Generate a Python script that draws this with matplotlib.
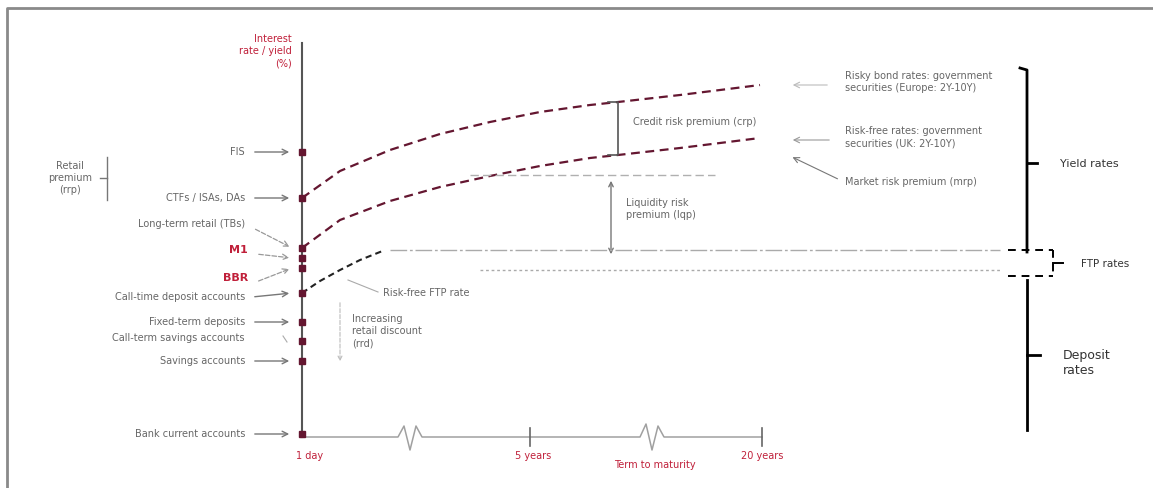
import matplotlib.pyplot as plt
from matplotlib.patches import FancyArrowPatch

# schematic units: x = position along term axis, y = rate level (drawn downward = lower)
rate_labels = ["FIS", "CTFs / ISAs, DAs", "Long-term retail (TBs)", "M1", "BBR",
               "Call-time deposit accounts", "Fixed-term deposits",
               "Call-term savings accounts", "Savings accounts", "Bank current accounts"]
label_y = [152, 198, 224, 250, 278, 297, 322, 338, 361, 434]
label_red = [False, False, False, True, True, False, False, False, False, False]
marker_y = [152, 198, 248, 258, 268, 293, 322, 341, 361, 434]

term_x = [302, 340, 390, 440, 490, 540, 590, 618, 680, 760]
risky_curve = [198, 171, 150, 134, 122, 112, 105, 102, 95, 85]
riskfree_curve = [248, 220, 201, 187, 176, 166, 158, 155, 148, 138]
ftp_x = [302, 320, 340, 360, 385]
ftp_curve = [293, 281, 270, 260, 250]

tick_x = [310, 533, 762]
tick_labels = ["1 day", "5 years", "20 years"]

RED = "#c0203a"
DARK = "#641630"
TXT = "#666666"

fig = plt.figure(figsize=(11.53, 4.88), dpi=100)
ax = fig.add_axes([0, 0, 1, 1])
ax.set_xlim(0, 1153)
ax.set_ylim(488, 0)
ax.axis("off")

# frame
ax.plot([7, 7, 1153], [488, 8, 8], color="#8a8a8a", lw=2)

# axes of the diagram
ax.plot([302, 302], [43, 437], color="#555555", lw=1.5)
hx = [302, 398, 404, 410, 416, 422, 640, 646, 652, 658, 664, 762]
hy = [437, 437, 426, 450, 426, 437, 437, 424, 450, 426, 437, 437]
ax.plot(hx, hy, color="#a0a0a0", lw=1.1)
for tx in [530, 762]:
    ax.plot([tx, tx], [428, 446], color="#666666", lw=1.2)
for tx, tl in zip(tick_x, tick_labels):
    ax.text(tx, 456, tl, color=RED, fontsize=7, ha="center", va="center")
ax.text(655, 465, "Term to maturity", color=RED, fontsize=7, ha="center", va="center")

ax.text(292, 51, "Interest\nrate / yield\n(%)", color=RED, fontsize=7,
        ha="right", va="center", linespacing=1.3)

# left labels and arrows
for y, lab, red, my in zip(label_y, rate_labels, label_red, marker_y):
    col = RED if red else TXT
    xr = 248 if red else 245
    ax.text(xr, y, lab, color=col, fontsize=8 if red else 7,
            fontweight="bold" if red else "normal", ha="right", va="center")
    if lab in ("Long-term retail (TBs)", "M1", "BBR"):
        ax.annotate("", xy=(292, my), xytext=(xr + 8, y + 4),
                    arrowprops=dict(arrowstyle="->", color="#999999", lw=0.9, ls="--"))
    elif lab == "Call-term savings accounts":
        ax.plot([283, 287], [336, 342], color="#aaaaaa", lw=0.8)
    else:
        ax.annotate("", xy=(292, my), xytext=(252, y),
                    arrowprops=dict(arrowstyle="->", color="#777777", lw=1.0))

# retail premium bracket
ax.plot([107, 107], [157, 200], color="#777777", lw=1.0)
ax.plot([100, 107], [178, 178], color="#777777", lw=1.0)
ax.text(70, 178, "Retail\npremium\n(rrp)", color=TXT, fontsize=7, ha="center",
        va="center", linespacing=1.3)

# curves
ax.plot(term_x, risky_curve, color=DARK, lw=1.6, ls=(0, (4, 2.5)))
ax.plot(term_x, riskfree_curve, color=DARK, lw=1.6, ls=(0, (4, 2.5)))
ax.plot(ftp_x, ftp_curve, color="#222222", lw=1.5, ls=(0, (3, 2)))
ax.plot([302] * len(marker_y), marker_y, "s", color=DARK, ms=4.5)

# reference lines
ax.plot([390, 1000], [250, 250], color="#aaaaaa", lw=1.0, ls=(0, (12, 2, 2, 2)))
ax.plot([480, 1000], [270, 270], color="#aaaaaa", lw=1.0, ls=(0, (2, 2)))
ax.plot([470, 715], [175, 175], color="#b0b0b0", lw=1.0, ls=(0, (6, 3)))

# credit risk premium
ax.plot([608, 618, 618, 608], [102, 102, 155, 155], color="#555555", lw=1.2)
ax.text(633, 122, "Credit risk premium (crp)", color=TXT, fontsize=7, va="center")

# liquidity premium
ax.add_patch(FancyArrowPatch((611, 178), (611, 257), arrowstyle="<->",
                             mutation_scale=8, color="#777777", lw=1.0))
ax.text(626, 209, "Liquidity risk\npremium (lqp)", color=TXT, fontsize=7,
        va="center", linespacing=1.3)

# FTP rate note and retail discount
ax.plot([348, 378], [280, 292], color="#aaaaaa", lw=0.8)
ax.text(383, 293, "Risk-free FTP rate", color=TXT, fontsize=7, va="center")
ax.add_patch(FancyArrowPatch((340, 300), (340, 364), arrowstyle="->",
                             mutation_scale=7, color="#bbbbbb", lw=0.8, ls="--"))
ax.text(352, 331, "Increasing\nretail discount\n(rrd)", color=TXT, fontsize=7,
        va="center", linespacing=1.3)

# right labels
ax.annotate("", xy=(790, 85), xytext=(830, 85),
            arrowprops=dict(arrowstyle="->", color="#bbbbbb", lw=0.8))
ax.text(845, 82, "Risky bond rates: government\nsecurities (Europe: 2Y-10Y)",
        color=TXT, fontsize=7, va="center", linespacing=1.3)
ax.annotate("", xy=(790, 140), xytext=(832, 140),
            arrowprops=dict(arrowstyle="->", color="#999999", lw=0.8))
ax.text(845, 137, "Risk-free rates: government\nsecurities (UK: 2Y-10Y)",
        color=TXT, fontsize=7, va="center", linespacing=1.3)
ax.annotate("", xy=(790, 156), xytext=(840, 180),
            arrowprops=dict(arrowstyle="->", color="#777777", lw=0.8))
ax.text(845, 182, "Market risk premium (mrp)", color=TXT, fontsize=7, va="center")

# right brace
ax.plot([1020, 1027, 1027], [68, 70, 252], color="black", lw=2)
ax.plot([1027, 1027], [280, 430], color="black", lw=2)
ax.plot([1027, 1037], [163, 163], color="black", lw=2)
ax.text(1060, 164, "Yield rates", color="#333333", fontsize=8, va="center")
ax.plot([1008, 1053], [250, 250], color="black", lw=1.4, ls=(0, (4, 3)))
ax.plot([1008, 1053], [276, 276], color="black", lw=1.4, ls=(0, (4, 3)))
ax.plot([1053, 1053], [250, 276], color="black", lw=1.4, ls=(0, (4, 3)))
ax.plot([1053, 1063], [263, 263], color="black", lw=1.4)
ax.text(1081, 264, "FTP rates", color="#333333", fontsize=7.5, va="center")
ax.plot([1027, 1040], [355, 355], color="black", lw=2)
ax.text(1063, 363, "Deposit\nrates", color="#333333", fontsize=9, va="center",
        linespacing=1.3)

fig.savefig("out.png", dpi=100)
